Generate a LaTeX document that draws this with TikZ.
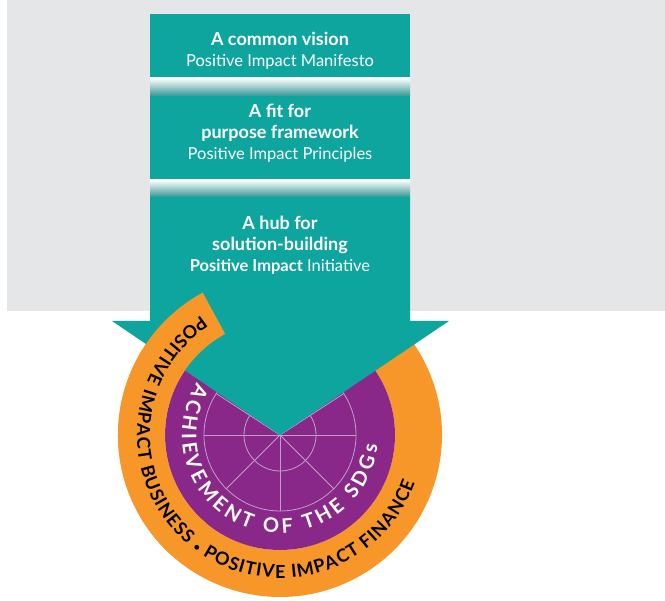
\documentclass[tikz,border=0pt]{standalone}
\usepackage{fontspec}
\setmainfont{Lato}
\usetikzlibrary{positioning,calc,decorations.text}
\definecolor{sdgteal}{HTML}{0EA59F}
\definecolor{sdggray}{HTML}{E5E6E8}
\definecolor{sdgorange}{HTML}{F7972A}
\definecolor{sdgpurple}{HTML}{8A288A}
\definecolor{sdgweb}{HTML}{BBA0C8}
\newcommand{\boxhead}[1]{{\bfseries\fontsize{18}{21}\selectfont #1}}

\begin{document}
\begin{tikzpicture}[x=1pt,y=1pt,
    tealbox/.style={fill=sdgteal, minimum width=260pt, inner sep=0pt, outer sep=0pt},
    boxtext/.style={text=white, align=center, font=\fontsize{16.5}{21}\selectfont},
    fadeband/.style={top color=white, bottom color=sdgteal!65!gray, minimum width=260pt,
        inner sep=0pt, outer sep=0pt},
    webline/.style={draw=sdgweb, line width=0.8pt}]
    \useasboundingbox (0,0) rectangle (665,601);

    % Background panel
    \fill[sdggray] (7,290) rectangle (665,601);
    \coordinate (c) at (280,166);

    % Orange ring (behind the arrow on the right)
    \fill[sdgorange] ($(c)+(118.5:162)$) arc[start angle=118.5, end angle=420, radius=162]
        -- ($(c)+(420:115)$) arc[start angle=420, end angle=118.5, radius=115] -- cycle;

    % Purple disc and web
    \fill[sdgpurple] (c) circle[radius=115];
    \draw[webline] (c) circle[radius=36] (c) circle[radius=76];
    \draw[webline] ($(c)+(180:76)$) -- ($(c)+(0:76)$);
    \foreach \a in {33,147,225,270,315}
        \draw[webline] (c) -- ($(c)+(\a:76)$);

    % Teal column
    \node[tealbox, minimum height=64pt] (vision) at (280,555) {};
    \node[fadeband, minimum height=18pt, below=0pt of vision] (band1) {};
    \node[tealbox, minimum height=84pt, below=0pt of band1] (framework) {};
    \node[fadeband, minimum height=17pt, below=0pt of framework] (band2) {};
    \fill[sdgteal] (band2.south west) -- (150,280) -- (112,280) -- (c)
        -- (449,280) -- (410,280) -- (band2.south east) -- cycle;

    \node[boxtext] (visiontext) at ([yshift=-5pt]vision.center)
        {\boxhead{A common vision}\\Positive Impact Manifesto};
    \node[boxtext] (frameworktext) at ([yshift=5pt]framework.center)
        {\boxhead{A fit for}\\\boxhead{purpose framework}\\Positive Impact Principles};
    \node[boxtext] (hubtext) at (280,356)
        {\boxhead{A hub for}\\\boxhead{solution-building}\\\textbf{Positive Impact} Initiative};

    % Orange ring start (in front of the arrow)
    \fill[sdgorange] ($(c)+(118.5:162)$) arc[start angle=118.5, end angle=230, radius=162]
        -- ($(c)+(230:115)$) arc[start angle=230, end angle=118.5, radius=115] -- cycle;

    % Texts along the circles
    \path[decorate, decoration={text along path, text align=fit to path, text color=white,
        text={|\bfseries\fontsize{20}{20}\selectfont|ACHIEVEMENT OF THE SDGs}}]
        ($(c)+(148:98)$) arc[start angle=148, end angle=354, radius=98];
    \path[decorate, decoration={text along path, text align=fit to path, text color=black,
        text={|\bfseries\fontsize{18}{18}\selectfont|POSITIVE IMPACT BUSINESS
        |\bfseries\fontsize{11}{11}\selectfont|•|\bfseries\fontsize{18}{18}\selectfont| POSITIVE IMPACT FINANCE}}]
        ($(c)+(123.5:143)$) arc[start angle=123.5, end angle=340.5, radius=143];
\end{tikzpicture}
\end{document}
